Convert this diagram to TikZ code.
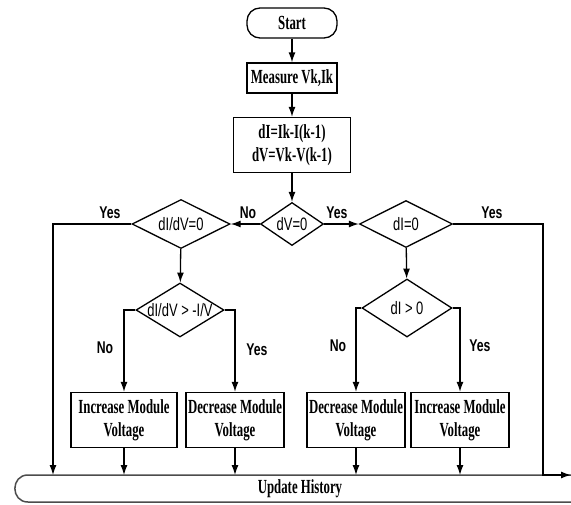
\documentclass[tikz,border=0pt]{standalone}
\usepackage{fontspec}
\setmainfont{Liberation Serif}[FakeStretch=0.64]
\newfontfamily\rotfont{Liberation Sans}[FakeStretch=0.72]
\usetikzlibrary{shapes.geometric,arrows.meta}
\newcommand{\sembox}[1]{\makebox[0pt]{#1}}

\tikzset{
    texto/.style={inner sep=0pt, align=center, font=\fontsize{20}{23}\selectfont\bfseries},
    bloco/.style={texto, draw, line width=1.3pt},
    decisao/.style={draw, line width=1.3pt, diamond, inner sep=0pt, font=\rotfont\fontsize{18}{18}\selectfont},
    rotulo/.style={font=\rotfont\fontsize{17}{18}\selectfont\bfseries},
    seta/.style={line width=1.3pt, -{Latex[length=10pt,width=7pt]}}
}

\begin{document}
\begin{tikzpicture}[x=1pt, y=-1pt]
    \useasboundingbox (0,0) rectangle (571,504);

    \node[bloco, rounded corners=13pt, minimum width=90pt, minimum height=30pt] (inicio) at (292,23) {Start};
    \node[bloco, minimum width=90pt, minimum height=30pt] (medir) at (292,78) {Measure Vk,Ik};
    \node[bloco, minimum width=117pt, minimum height=55pt] (delta) at (292,145) {dI=Ik-I(k-1)\\dV=Vk-V(k-1)};

    \node[decisao, minimum width=63pt, minimum height=43pt] (dv) at (292,224) {\sembox{dV=0}};
    \node[decisao, minimum width=98pt, minimum height=49pt] (didv) at (181,224) {\sembox{dI/dV=0}};
    \node[decisao, minimum width=93pt, minimum height=47pt] (di) at (406,224) {\sembox{dI=0}};
    \node[decisao, minimum width=88pt, minimum height=54pt] (comp) at (180,310) {\sembox{dI/dV > -I/V}};
    \node[decisao, minimum width=90pt, minimum height=58pt] (dipos) at (407,308) {\sembox{dI > 0}};

    \node[bloco, minimum width=106pt, minimum height=55pt] (aum1) at (124,420) {Increase Module\\Voltage};
    \node[bloco, minimum width=98pt, minimum height=55pt] (dim1) at (235,420) {Decrease Module\\Voltage};
    \node[bloco, minimum width=98pt, minimum height=55pt] (dim2) at (356,420) {Decrease Module\\Voltage};
    \node[bloco, minimum width=98pt, minimum height=55pt] (aum2) at (460,420) {Increase Module\\Voltage};

    % barra de historico
    \draw[line width=1.5pt, black!70] (571,475) -- (28,475) .. controls (10.5,475) and (10.5,502) .. (28,502) -- (571,502);
    \node[texto] (atual) at (300,489) {Update History};
    \coordinate (topo) at (300,475);
    \coordinate (fimA) at (53,475);
    \coordinate (canto) at (543,475);
    \coordinate (fimB) at (571,475);

    \node[rotulo] (simA) at (110,213) {Yes};
    \node[rotulo] (naoA) at (248,213) {No};
    \node[rotulo] (simB) at (337,213) {Yes};
    \node[rotulo] (simC) at (492,213) {Yes};
    \node[rotulo] (naoB) at (105,348) {No};
    \node[rotulo] (simD) at (257,350) {Yes};
    \node[rotulo] (naoC) at (338,346) {No};
    \node[rotulo] (simE) at (480,346) {Yes};

    \draw[seta] (inicio) -- (medir);
    \draw[seta] (medir) -- (delta);
    \draw[seta] (delta) -- (dv);
    \draw[seta] (dv.west) -- (didv.east);
    \draw[seta] (dv.east) -- (di.west);
    \draw[seta] (didv.west) -| (fimA);
    \draw[seta] (didv) -- (comp);
    \draw[seta] (comp.west) -| (aum1);
    \draw[seta] (comp.east) -| (dim1);
    \draw[seta] (di) -- (dipos);
    \draw[seta] (dipos.west) -| (dim2);
    \draw[seta] (dipos.east) -| (aum2);
    \draw[seta] (di.east) -| (canto) -- (fimB);
    \foreach \n in {aum1,dim1,dim2,aum2}
        \draw[seta] (\n) -- (\n |- topo);
\end{tikzpicture}
\end{document}
